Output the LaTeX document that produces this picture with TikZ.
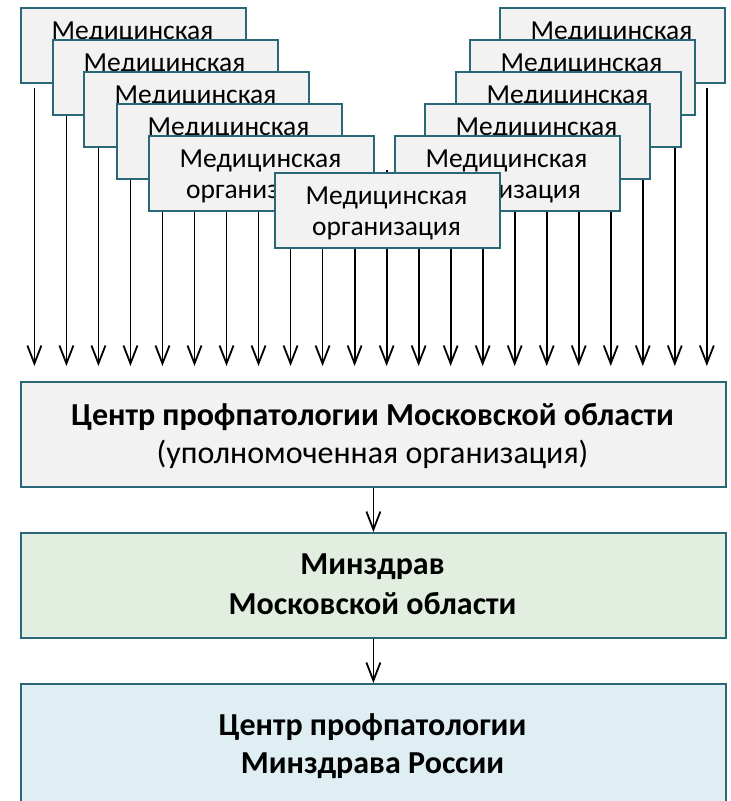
\documentclass[tikz,border=0pt]{standalone}
\usepackage{fontspec}
\setmainfont{Carlito}
\usetikzlibrary{arrows.meta}
\definecolor{bordc}{RGB}{42,104,120}
\definecolor{boxgray}{RGB}{242,242,242}
\definecolor{boxgreen}{RGB}{226,239,224}
\definecolor{boxblue}{RGB}{222,238,243}
\tikzset{
  orgbox/.style={draw=bordc, line width=1.8pt, fill=boxgray, minimum width=225pt, minimum height=75pt, inner sep=0pt, anchor=north west},
  orgtxt/.style={align=center, anchor=base, inner sep=0pt, font=\fontsize{27.5}{31}\selectfont},
  bigbox/.style={draw=bordc, line width=1.8pt, minimum width=705pt, inner sep=0pt, anchor=north west},
  bigtxt/.style={align=center, anchor=base, inner sep=0pt},
  arr/.style={line width=1.8pt, -{Straight Barb[length=18pt,width=14pt,line width=1.8pt]}}
}
\begin{document}
\begin{tikzpicture}[x=1pt,y=-1pt]
\useasboundingbox (0,0) rectangle (731,801);
\clip (0,0) rectangle (731,801);
% arrows from the organisations to the centre
\foreach \i/\s in {0/88,1/108,2/140,3/170,4/170,5/170,6/170,7/170,8/170,9/170,10/170,11/170,12/170,13/170,14/170,15/170,16/170,17/170,18/140,19/170,20/108,21/88}{
  \coordinate (s\i) at ({34.4+32.02*\i},\s);
  \coordinate (e\i) at ({34.4+32.02*\i},366);
  \draw[arr] (s\i) -- (e\i);
}
% left stack
\foreach \n/\x/\y in {L1/20/7,L2/52/39,L3/83/71,L4/116/103,L5/148/135}{
  \node[orgbox] (\n) at (\x,\y) {};
  \node[orgtxt] (\n t) at (\x+112.5,\y+63) {Медицинская\\организация};
}
% right stack
\foreach \n/\x/\y in {R1/499/7,R2/469/39,R3/455/71,R4/424/103,R5/394/135}{
  \node[orgbox] (\n) at (\x,\y) {};
  \node[orgtxt] (\n t) at (\x+112.5,\y+63) {Медицинская\\организация};
}
% centre
\node[orgbox] (C) at (274,172) {};
\node[orgtxt] (Ct) at (274+112.5,172+63) {Медицинская\\организация};
% lower boxes
\node[bigbox, fill=boxgray, minimum height=105pt] (A) at (20,381) {};
\node[bigtxt, font=\fontsize{32}{38}\selectfont] (At) at (372.5,463) {\textbf{Центр профпатологии Московской области}\\(уполномоченная организация)};
\node[bigbox, fill=boxgreen, minimum height=105pt] (B) at (20,532) {};
\node[bigtxt, font=\bfseries\fontsize{32}{40}\selectfont] (Bt) at (372.5,614) {Минздрав\\Московской области};
\node[bigbox, fill=boxblue, minimum height=140pt] (D) at (20,683) {};
\node[bigtxt, font=\bfseries\fontsize{32}{38}\selectfont] (Dt) at (372.5,773) {Центр профпатологии\\Минздрава России};
\draw[arr] (A.south) -- (B.north);
\draw[arr] (B.south) -- (D.north);
\end{tikzpicture}
\end{document}
